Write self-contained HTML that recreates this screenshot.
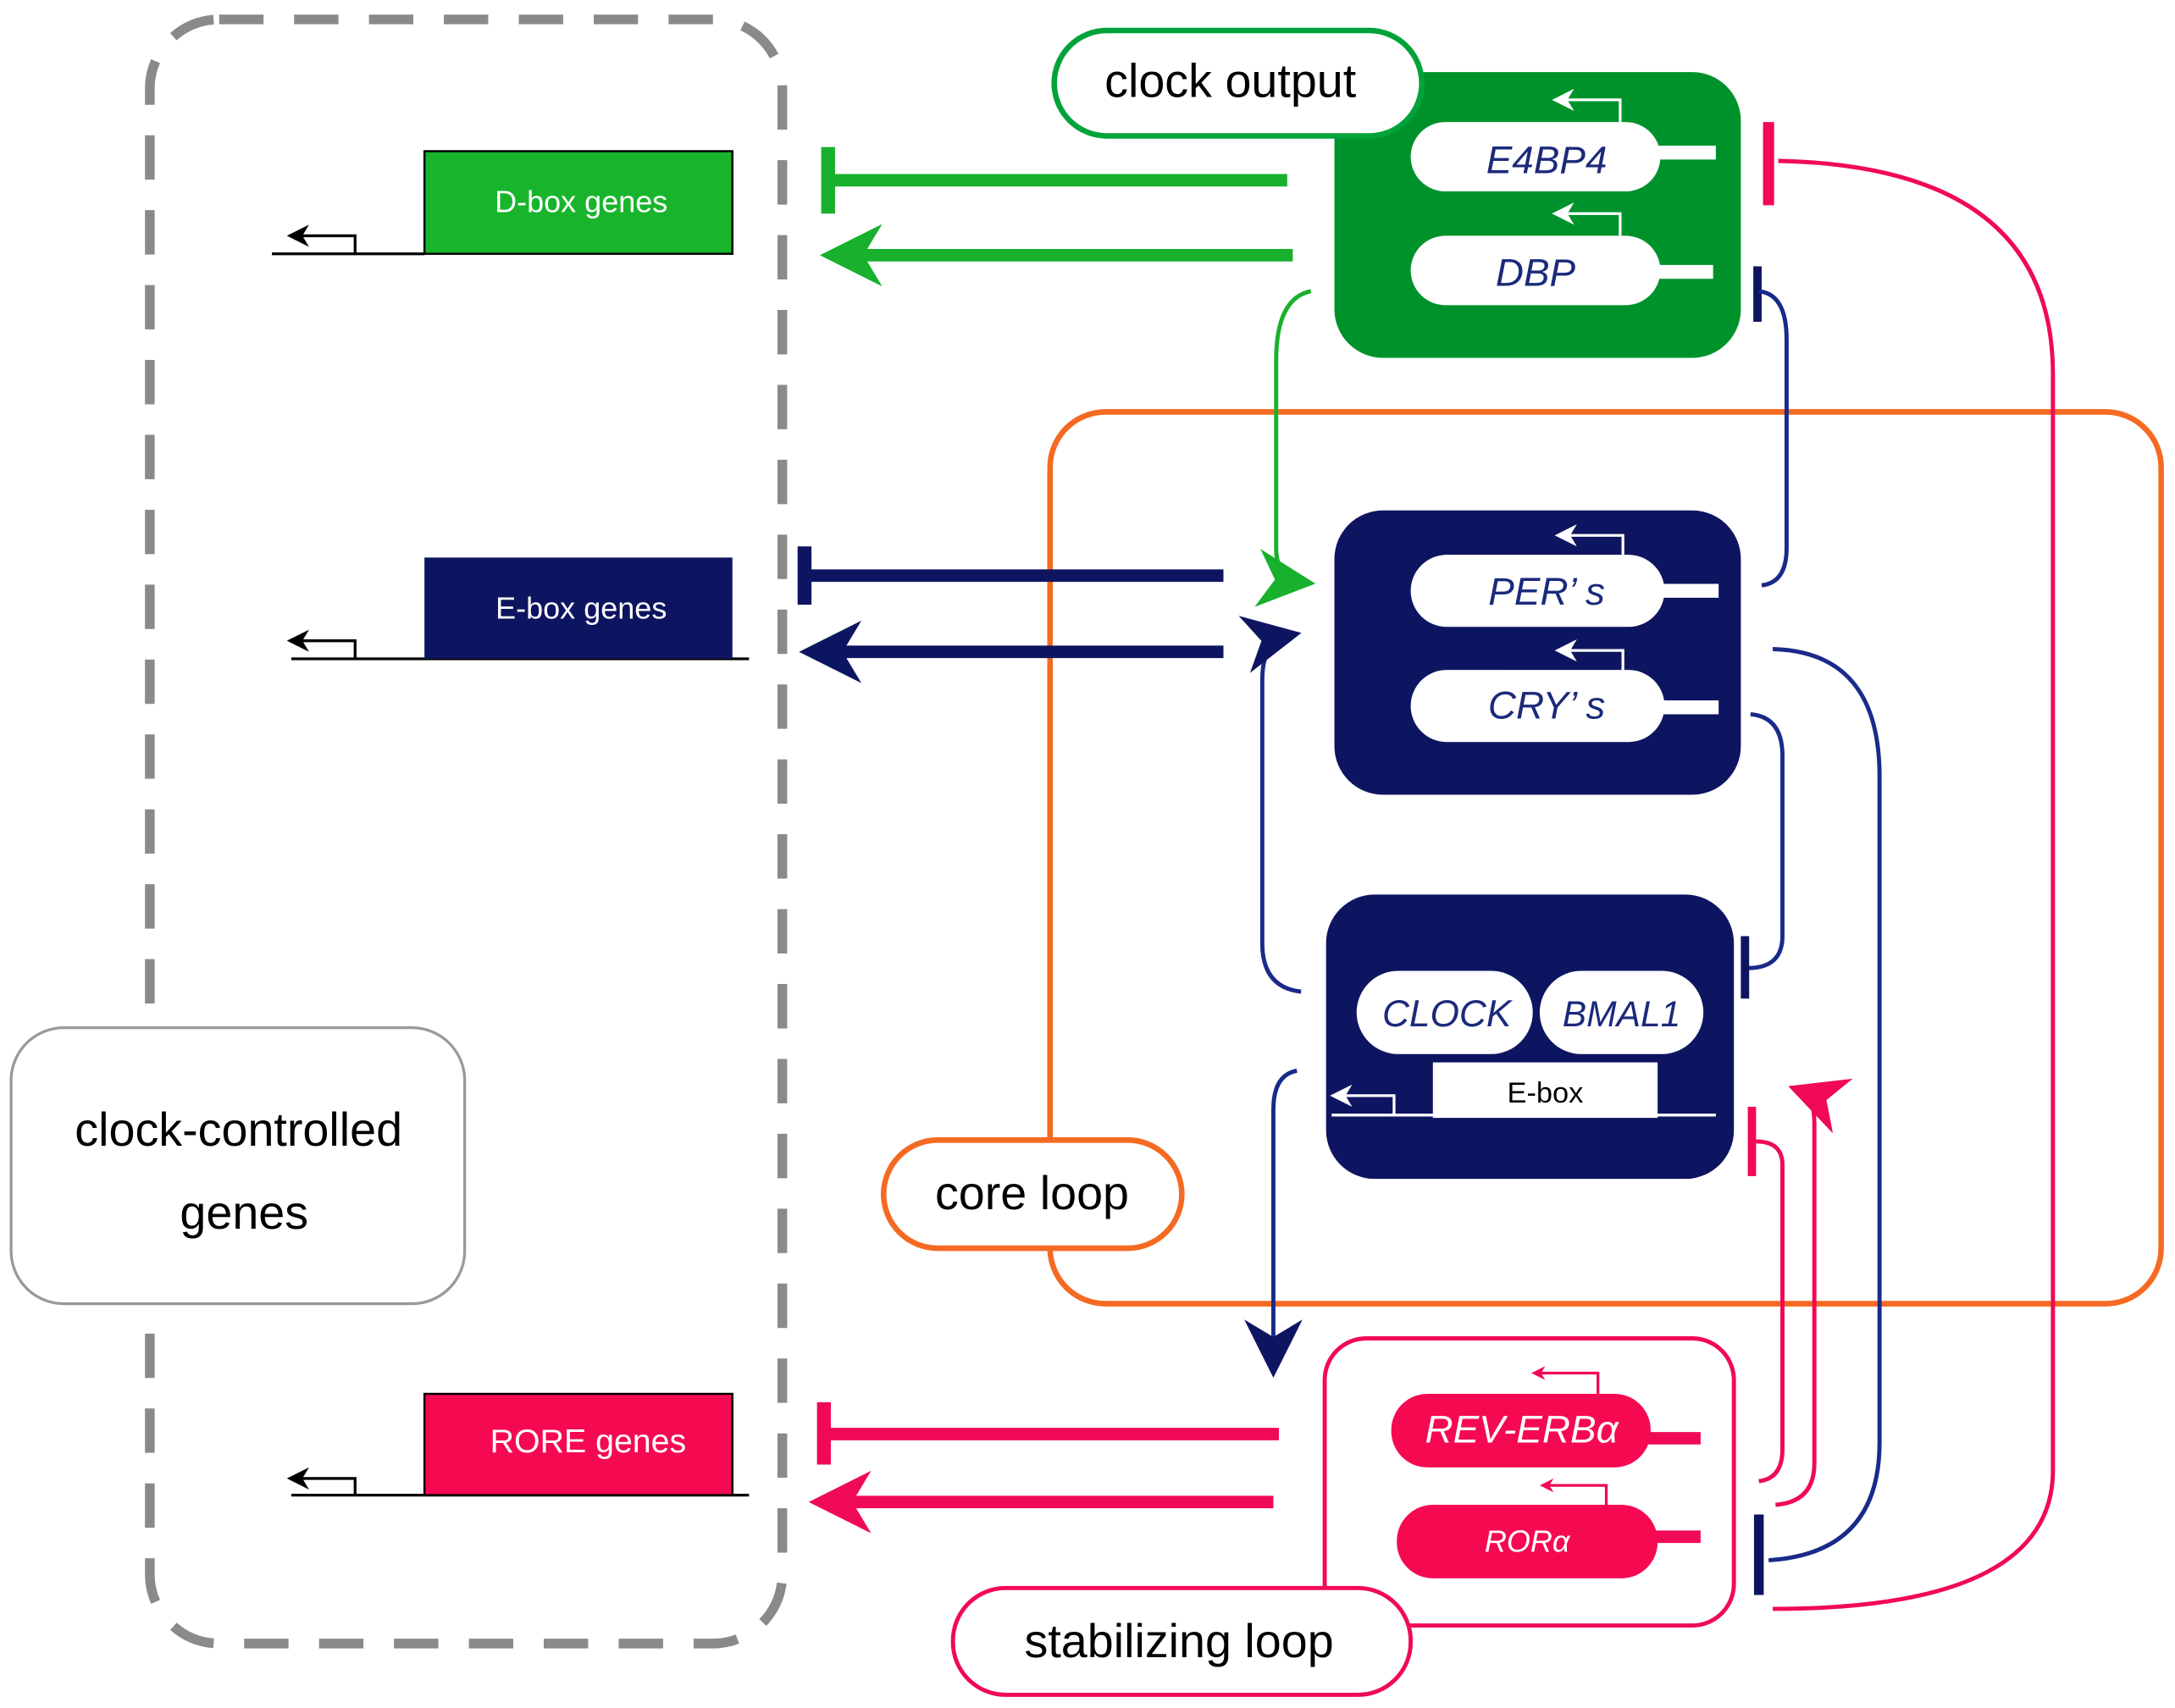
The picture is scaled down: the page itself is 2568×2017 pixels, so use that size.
<!DOCTYPE html>
<html><head><meta charset="utf-8"><style>
html,body{margin:0;padding:0;background:#fff;}
svg{display:block;}
text{font-family:"Liberation Sans",sans-serif;}
</style></head><body>
<svg width="2568" height="2017" viewBox="0 0 1568 1231.5" preserveAspectRatio="none" xmlns="http://www.w3.org/2000/svg">
<defs>
<marker id="ag" viewBox="0 0 10 10" refX="8" refY="5" markerWidth="5" markerHeight="5" orient="auto" markerUnits="strokeWidth"><path d="M0,0 L10,5 L0,10 L3,5 Z" fill="#18b02c"/></marker>
<marker id="ab" viewBox="0 0 10 10" refX="8" refY="5" markerWidth="5" markerHeight="5" orient="auto" markerUnits="strokeWidth"><path d="M0,0 L10,5 L0,10 L3,5 Z" fill="#0e1560"/></marker>
<marker id="ar" viewBox="0 0 10 10" refX="8" refY="5" markerWidth="5" markerHeight="5" orient="auto" markerUnits="strokeWidth"><path d="M0,0 L10,5 L0,10 L3,5 Z" fill="#f00a55"/></marker>
<marker id="agS" viewBox="0 0 10 10" refX="8" refY="5" markerWidth="14" markerHeight="14" orient="auto" markerUnits="strokeWidth"><path d="M0,0 L10,5 L0,10 L3,5 Z" fill="#18b02c"/></marker>
<marker id="abS" viewBox="0 0 10 10" refX="8" refY="5" markerWidth="14" markerHeight="14" orient="auto" markerUnits="strokeWidth"><path d="M0,0 L10,5 L0,10 L3,5 Z" fill="#0e1560"/></marker>
<marker id="arS" viewBox="0 0 10 10" refX="8" refY="5" markerWidth="14" markerHeight="14" orient="auto" markerUnits="strokeWidth"><path d="M0,0 L10,5 L0,10 L3,5 Z" fill="#f00a55"/></marker>
<marker id="ak" viewBox="0 0 10 10" refX="8" refY="5" markerWidth="8" markerHeight="8" orient="auto" markerUnits="strokeWidth"><path d="M0,0 L10,5 L0,10 L3,5 Z" fill="#000"/></marker>
<marker id="aw" viewBox="0 0 10 10" refX="8" refY="5" markerWidth="8" markerHeight="8" orient="auto" markerUnits="strokeWidth"><path d="M0,0 L10,5 L0,10 L3,5 Z" fill="#fff"/></marker>
</defs>

<!-- dashed outer -->
<rect x="108" y="14" width="456" height="1171" rx="50" fill="none" stroke="#8a8a8a" stroke-width="7" stroke-dasharray="32 22"/>

<!-- clock-controlled genes -->
<rect x="8" y="741" width="327" height="199" rx="38" fill="#fff" stroke="#999" stroke-width="2"/>
<text x="172" y="826" font-size="34" text-anchor="middle">clock-controlled</text>
<text x="176" y="886" font-size="34" text-anchor="middle">genes</text>

<!-- left gene boxes -->
<line x1="196" y1="183" x2="306" y2="183" stroke="#000" stroke-width="2"/>
<polyline points="256,183 256,170 210,170" fill="none" stroke="#000" stroke-width="2" marker-end="url(#ak)"/>
<rect x="306" y="109" width="222" height="74" fill="#18b52c" stroke="#000" stroke-width="1.5"/>
<text x="419" y="153" font-size="22" fill="#fff" text-anchor="middle">D-box genes</text>

<line x1="210" y1="475" x2="540" y2="475" stroke="#000" stroke-width="2"/>
<polyline points="256,475 256,462 210,462" fill="none" stroke="#000" stroke-width="2" marker-end="url(#ak)"/>
<rect x="306" y="402" width="222" height="73" fill="#0e1560"/>
<text x="419" y="446" font-size="22" fill="#fff" text-anchor="middle">E-box genes</text>

<line x1="210" y1="1078" x2="540" y2="1078" stroke="#000" stroke-width="2"/>
<polyline points="256,1078 256,1066 210,1066" fill="none" stroke="#000" stroke-width="2" marker-end="url(#ak)"/>
<rect x="306" y="1005" width="222" height="73" fill="#f50a52" stroke="#000" stroke-width="1.5"/>
<text x="424" y="1047" font-size="24" fill="#fff" text-anchor="middle">RORE genes</text>

<!-- orange core loop rect -->
<rect x="757" y="297" width="801" height="643" rx="40" fill="none" stroke="#f56a22" stroke-width="4"/>

<!-- green box -->
<rect x="962" y="52" width="293" height="206" rx="35" fill="#00922a"/>
<rect x="760" y="22" width="265" height="76" rx="38" fill="#fff" stroke="#00a33a" stroke-width="4"/>
<text x="887" y="70" font-size="34" text-anchor="middle">clock output</text>
<line x1="1190" y1="110" x2="1237" y2="110" stroke="#fff" stroke-width="10"/>
<line x1="1190" y1="196" x2="1235" y2="196" stroke="#fff" stroke-width="10"/>
<rect x="1017" y="88" width="180" height="50" rx="25" fill="#fff"/>
<rect x="1017" y="170" width="180" height="50" rx="25" fill="#fff"/>
<text x="1115" y="125" font-size="28" font-style="italic" fill="#1b2a7a" text-anchor="middle">E4BP4</text>
<text x="1107" y="206" font-size="28" font-style="italic" fill="#1b2a7a" text-anchor="middle">DBP</text>
<polyline points="1168,88 1168,72 1122,72" fill="none" stroke="#fff" stroke-width="2" marker-end="url(#aw)"/>
<polyline points="1168,170 1168,154 1122,154" fill="none" stroke="#fff" stroke-width="2" marker-end="url(#aw)"/>

<!-- green output lines -->
<line x1="928" y1="130" x2="597" y2="130" stroke="#18b02c" stroke-width="9"/>
<line x1="597" y1="106" x2="597" y2="154" stroke="#18b02c" stroke-width="10"/>
<line x1="932" y1="184" x2="600" y2="184" stroke="#18b02c" stroke-width="9" marker-end="url(#ag)"/>
<path d="M945,210 Q920,215 920,260 L920,395 Q920,418 940,420" fill="none" stroke="#18b02c" stroke-width="3" marker-end="url(#agS)"/>

<!-- red long curve from RORa to E4BP4 -->
<line x1="1275" y1="88" x2="1275" y2="148" stroke="#f00a55" stroke-width="8"/>
<path d="M1282,116 Q1480,120 1480,270 L1480,1060 Q1480,1160 1278,1160" fill="none" stroke="#f00a55" stroke-width="3"/>

<!-- blue DBP bar & curve to PER -->
<line x1="1267" y1="192" x2="1267" y2="232" stroke="#0e1560" stroke-width="6"/>
<path d="M1268,210 Q1288,212 1288,245 L1288,395 Q1288,420 1270,422" fill="none" stroke="#1a2a8a" stroke-width="3"/>

<!-- PER/CRY box -->
<rect x="962" y="368" width="293" height="205" rx="35" fill="#0e1560"/>
<line x1="1190" y1="426" x2="1239" y2="426" stroke="#fff" stroke-width="10"/>
<line x1="1190" y1="510" x2="1239" y2="510" stroke="#fff" stroke-width="10"/>
<rect x="1017" y="400" width="183" height="52" rx="26" fill="#fff"/>
<rect x="1017" y="483" width="183" height="52" rx="26" fill="#fff"/>
<text x="1115" y="436" font-size="28" font-style="italic" fill="#1b2a7a" text-anchor="middle">PER’ s</text>
<text x="1115" y="518" font-size="28" font-style="italic" fill="#1b2a7a" text-anchor="middle">CRY’ s</text>
<polyline points="1170,400 1170,386 1124,386" fill="none" stroke="#fff" stroke-width="2" marker-end="url(#aw)"/>
<polyline points="1170,483 1170,469 1124,469" fill="none" stroke="#fff" stroke-width="2" marker-end="url(#aw)"/>

<!-- blue output lines -->
<line x1="882" y1="415" x2="580" y2="415" stroke="#0e1560" stroke-width="9"/>
<line x1="580" y1="394" x2="580" y2="436" stroke="#0e1560" stroke-width="10"/>
<line x1="882" y1="470" x2="585" y2="470" stroke="#0e1560" stroke-width="9" marker-end="url(#ab)"/>

<!-- CLOCK->PER arrow -->
<path d="M938,715 Q910,712 910,680 L910,490 Q910,462 930,458" fill="none" stroke="#1a2a8a" stroke-width="3" marker-end="url(#abS)"/>
<!-- CRY -| CLOCK -->
<path d="M1262,515 Q1285,517 1285,545 L1285,675 Q1285,698 1260,698" fill="none" stroke="#1a2a8a" stroke-width="3"/>
<line x1="1258" y1="675" x2="1258" y2="720" stroke="#0e1560" stroke-width="6"/>

<!-- CLOCK/BMAL1 box -->
<rect x="956" y="645" width="294" height="205" rx="35" fill="#0e1560"/>
<rect x="978" y="700" width="127" height="60" rx="30" fill="#fff"/>
<rect x="1110" y="700" width="118" height="60" rx="30" fill="#fff"/>
<text x="1043" y="740" font-size="27" font-style="italic" fill="#1b2a7a" text-anchor="middle">CLOCK</text>
<text x="1169" y="740" font-size="26" font-style="italic" fill="#1b2a7a" text-anchor="middle">BMAL1</text>
<line x1="960" y1="804" x2="1237" y2="804" stroke="#fff" stroke-width="2"/>
<rect x="1033" y="766" width="162" height="40" fill="#fff"/>
<text x="1114" y="795" font-size="21" fill="#000" text-anchor="middle">E-box</text>
<polyline points="1005,804 1005,790 962,790" fill="none" stroke="#fff" stroke-width="2" marker-end="url(#aw)"/>

<!-- CLOCK -> REV arrow -->
<path d="M935,772 Q918,775 918,800 L918,985" fill="none" stroke="#1a2a8a" stroke-width="3" marker-end="url(#abS)"/>

<!-- core loop label -->
<rect x="637" y="822" width="215" height="78" rx="39" fill="#fff" stroke="#f56a22" stroke-width="4"/>
<text x="744" y="872" font-size="34" text-anchor="middle">core loop</text>

<!-- stabilizing box -->
<rect x="955" y="965" width="295" height="207" rx="30" fill="#fff" stroke="#f00a55" stroke-width="3"/>
<line x1="1185" y1="1037" x2="1226" y2="1037" stroke="#f00a55" stroke-width="9"/>
<line x1="1185" y1="1108" x2="1226" y2="1108" stroke="#f00a55" stroke-width="9"/>
<rect x="1003" y="1005" width="187" height="53" rx="26" fill="#f50a52"/>
<rect x="1007" y="1085" width="188" height="53" rx="26" fill="#f50a52"/>
<text x="1097" y="1040" font-size="28" font-style="italic" fill="#fff" text-anchor="middle">REV-ERBα</text>
<text x="1101" y="1119" font-size="22" font-style="italic" fill="#fff" text-anchor="middle">RORα</text>
<polyline points="1152,1005 1152,990 1106,990" fill="none" stroke="#f00a55" stroke-width="2" marker-end="url(#ar)"/>
<polyline points="1158,1085 1158,1071 1112,1071" fill="none" stroke="#f00a55" stroke-width="2" marker-end="url(#ar)"/>

<!-- red output lines -->
<line x1="922" y1="1034" x2="594" y2="1034" stroke="#f00a55" stroke-width="9"/>
<line x1="594" y1="1011" x2="594" y2="1056" stroke="#f00a55" stroke-width="10"/>
<line x1="918" y1="1083" x2="592" y2="1083" stroke="#f00a55" stroke-width="9" marker-end="url(#ar)"/>

<!-- red to CLOCK -->
<path d="M1268,1068 Q1285,1066 1285,1045 L1285,840 Q1285,823 1266,823" fill="none" stroke="#f00a55" stroke-width="3"/>
<line x1="1263" y1="798" x2="1263" y2="848" stroke="#f00a55" stroke-width="6"/>
<path d="M1280,1085 Q1308,1083 1308,1055 L1308,810 Q1308,790 1297,786" fill="none" stroke="#f00a55" stroke-width="3" marker-end="url(#arS)"/>

<!-- blue RORa bar & curve from PER -->
<line x1="1268" y1="1092" x2="1268" y2="1150" stroke="#0e1560" stroke-width="7"/>
<path d="M1275,1125 Q1355,1120 1355,1040 L1355,560 Q1355,470 1278,468" fill="none" stroke="#1a2a8a" stroke-width="3"/>

<!-- stabilizing loop label -->
<rect x="687" y="1145" width="330" height="77" rx="38" fill="#fff" stroke="#f00a55" stroke-width="3"/>
<text x="850" y="1195" font-size="34" text-anchor="middle">stabilizing loop</text>
</svg>
</body></html>
